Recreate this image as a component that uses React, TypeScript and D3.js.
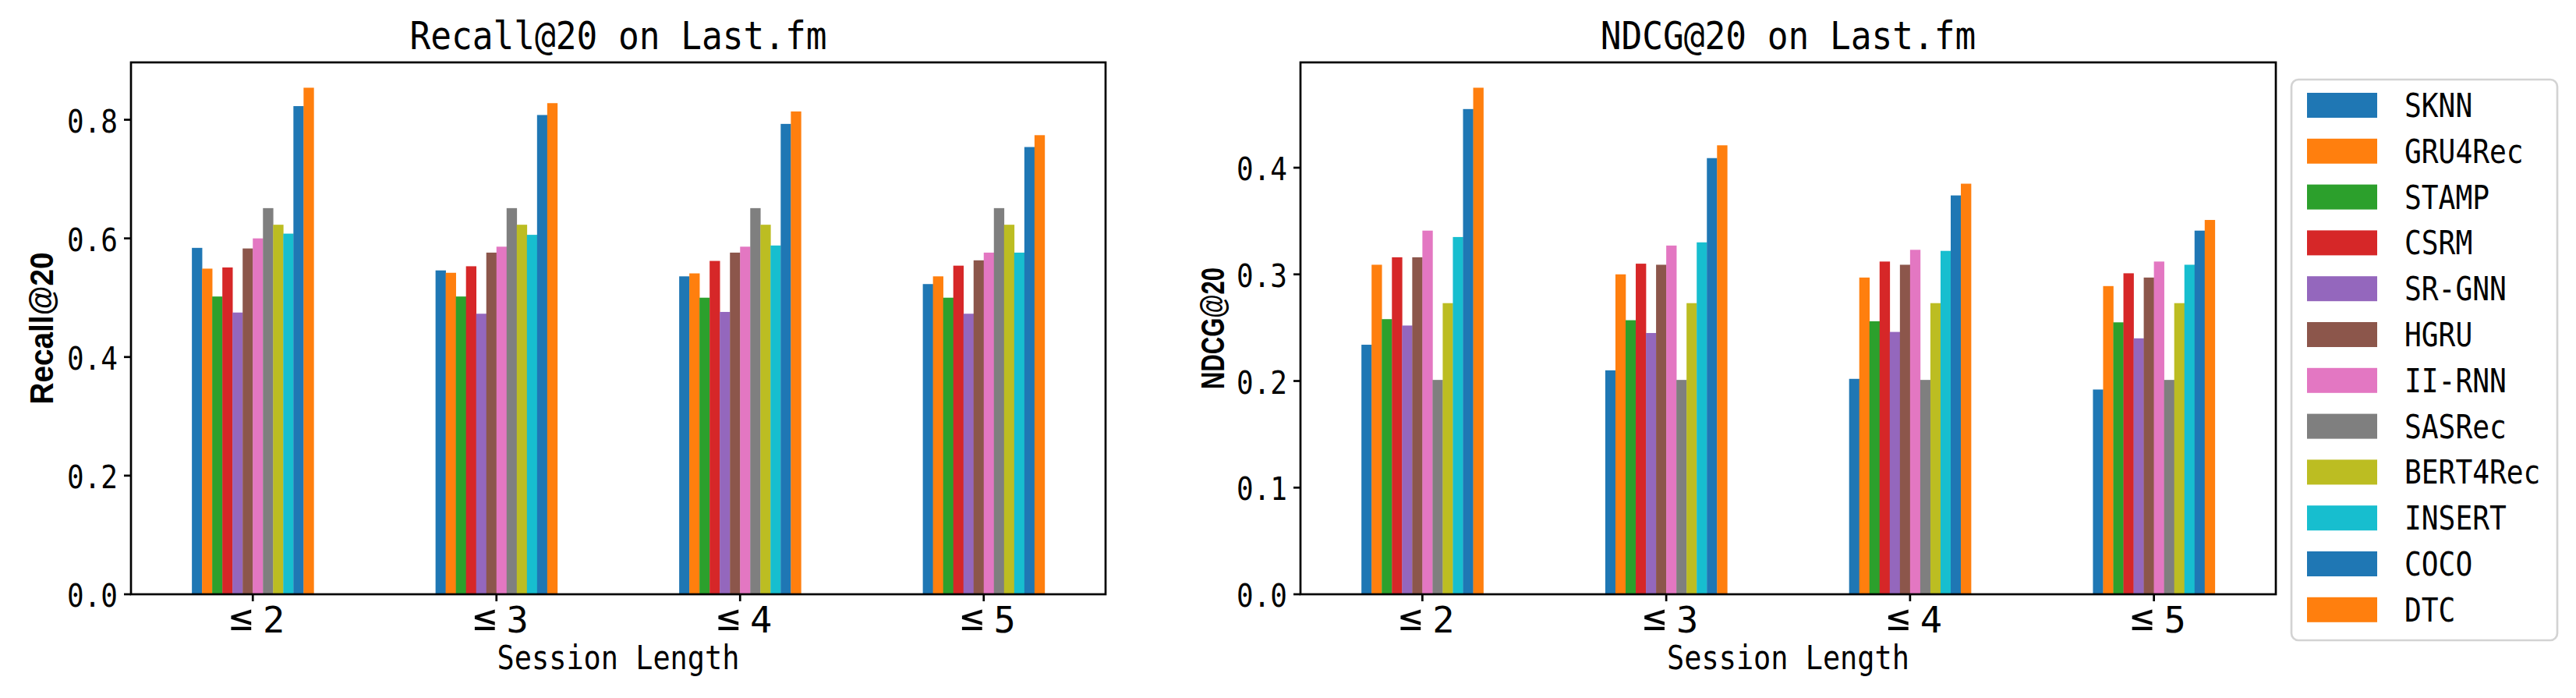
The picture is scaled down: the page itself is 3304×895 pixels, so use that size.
import React from "react";
import * as d3 from "d3";

// categories and series
const sessionLengths = ["≤2", "≤3", "≤4", "≤5"];
const models = [
  "SKNN", "GRU4Rec", "STAMP", "CSRM", "SR-GNN", "HGRU",
  "II-RNN", "SASRec", "BERT4Rec", "INSERT", "COCO", "DTC",
];
const modelColors = [
  "#1f77b4", "#ff7f0e", "#2ca02c", "#d62728", "#9467bd", "#8c564b",
  "#e377c2", "#7f7f7f", "#bcbd22", "#17becf", "#1f77b4", "#ff7f0e",
];

// [model][session length]
const recallValues = [
  [0.584, 0.546, 0.536, 0.523],
  [0.549, 0.542, 0.541, 0.536],
  [0.502, 0.502, 0.500, 0.500],
  [0.551, 0.553, 0.562, 0.554],
  [0.475, 0.473, 0.476, 0.473],
  [0.583, 0.576, 0.576, 0.563],
  [0.600, 0.586, 0.586, 0.576],
  [0.651, 0.651, 0.651, 0.651],
  [0.623, 0.623, 0.623, 0.623],
  [0.608, 0.606, 0.588, 0.576],
  [0.823, 0.808, 0.793, 0.754],
  [0.854, 0.828, 0.814, 0.774],
];

const ndcgValues = [
  [0.234, 0.210, 0.202, 0.192],
  [0.309, 0.300, 0.297, 0.289],
  [0.258, 0.257, 0.256, 0.255],
  [0.316, 0.310, 0.312, 0.301],
  [0.252, 0.245, 0.246, 0.240],
  [0.316, 0.309, 0.309, 0.297],
  [0.341, 0.327, 0.323, 0.312],
  [0.201, 0.201, 0.201, 0.201],
  [0.273, 0.273, 0.273, 0.273],
  [0.335, 0.330, 0.322, 0.309],
  [0.455, 0.409, 0.374, 0.341],
  [0.475, 0.421, 0.385, 0.351],
];

const recallTicks = [0, 0.2, 0.4, 0.6, 0.8];
const ndcgTicks = [0, 0.1, 0.2, 0.3, 0.4];

const W = 3304;
const H = 895;
const MONO = "'DejaVu Sans Mono', monospace";
const SANS = "'Liberation Sans', Arial, sans-serif";
const fmt = d3.format(".1f");

// SimHei-like widths: latin is half an em, ≤ a full em
function cells(s: string) {
  let w = 0;
  for (const ch of s) w += ch === "≤" ? 1 : 0.5;
  return w;
}

function MonoText(props: {
  x: number;
  y: number;
  em: number;
  size: number;
  anchor?: string;
  children: string;
}) {
  const { x, y, em, size, anchor = "start", children } = props;
  return (
    <text
      x={x}
      y={y}
      fontFamily={MONO}
      fontSize={size}
      textAnchor={anchor}
      textLength={cells(children) * em}
      lengthAdjust="spacingAndGlyphs"
      fill="#000"
    >
      {children}
    </text>
  );
}

function Panel(props: {
  left: number;
  right: number;
  title: string;
  ylabel: string;
  ylabelLen: number;
  ylabelX: number;
  values: number[][];
  ticks: number[];
}) {
  const { left, right, title, ylabel, ylabelLen, ylabelX, values, ticks } = props;
  const top = 80;
  const bottom = 762;

  const x = d3
    .scaleBand<string>()
    .domain(sessionLengths)
    .range([left, right])
    .paddingInner(0.5)
    .paddingOuter(0.25);
  const inner = d3
    .scaleBand<string>()
    .domain(models)
    .range([0, x.bandwidth()]);
  const ymax = (d3.max(values.flat()) ?? 1) * 1.05;
  const y = d3.scaleLinear().domain([0, ymax]).range([bottom, top]);
  const cx = (left + right) / 2;

  return (
    <g>
      {models.map((m, mi) =>
        sessionLengths.map((s, si) => (
          <rect
            key={m + s}
            x={(x(s) ?? 0) + (inner(m) ?? 0)}
            y={y(values[mi][si])}
            width={inner.bandwidth() + 0.3}
            height={y(0) - y(values[mi][si])}
            fill={modelColors[mi]}
          />
        )),
      )}
      <rect
        x={left}
        y={top}
        width={right - left}
        height={bottom - top}
        fill="none"
        stroke="#000"
        strokeWidth={2.7}
      />
      {ticks.map((t) => (
        <g key={t}>
          <line x1={left - 9} x2={left} y1={y(t)} y2={y(t)} stroke="#000" strokeWidth={2.7} />
          <MonoText x={left - 17} y={y(t) + 16} em={43.3} size={41} anchor="end">
            {fmt(t)}
          </MonoText>
        </g>
      ))}
      {sessionLengths.map((s) => {
        const tx = (x(s) ?? 0) + x.bandwidth() / 2;
        const [sym, digit] = [s.slice(0, 1), s.slice(1)];
        return (
          <g key={s}>
            <line x1={tx} x2={tx} y1={bottom} y2={bottom + 9} stroke="#000" strokeWidth={2.7} />
            <text x={tx - 15} y={808} fontFamily={MONO} fontSize={50} textAnchor="middle">
              {sym}
            </text>
            <text x={tx + 27} y={811} fontFamily={MONO} fontSize={47} textAnchor="middle">
              {digit}
            </text>
          </g>
        );
      })}
      <MonoText x={cx} y={63} em={53.5} size={49} anchor="middle">
        {title}
      </MonoText>
      <MonoText x={cx} y={858} em={44.4} size={42} anchor="middle">
        Session Length
      </MonoText>
      <text
        transform={`translate(${ylabelX},${(top + bottom) / 2}) rotate(-90)`}
        textAnchor="middle"
        fontFamily={SANS}
        fontWeight="bold"
        fontSize={42}
        textLength={ylabelLen}
        lengthAdjust="spacingAndGlyphs"
      >
        {ylabel}
      </text>
    </g>
  );
}

function Legend() {
  const bx = 2939;
  const by = 102;
  const rowStep = 58.8;
  return (
    <g>
      <rect
        x={bx}
        y={by}
        width={341}
        height={719}
        rx={9}
        fill="#fff"
        fillOpacity={0.8}
        stroke="#d3d3d3"
        strokeWidth={2.7}
      />
      {models.map((m, i) => {
        const py = 119 + i * rowStep;
        return (
          <g key={m}>
            <rect x={2959} y={py} width={90} height={32} fill={modelColors[i]} />
            <MonoText x={3084} y={py + 31} em={43.6} size={42}>
              {m}
            </MonoText>
          </g>
        );
      })}
    </g>
  );
}

export default function App() {
  return (
    <div>
      <style>{`body{margin:0;background:#fff}`}</style>
      <svg width={W} height={H} viewBox={`0 0 ${W} ${H}`} style={{ display: "block" }}>
        <rect width={W} height={H} fill="#fff" />
        <Panel
          left={168}
          right={1418}
          title="Recall@20 on Last.fm"
          ylabel="Recall@20"
          ylabelLen={195}
          ylabelX={68}
          values={recallValues}
          ticks={recallTicks}
        />
        <Panel
          left={1668}
          right={2919}
          title="NDCG@20 on Last.fm"
          ylabel="NDCG@20"
          ylabelLen={156}
          ylabelX={1570}
          values={ndcgValues}
          ticks={ndcgTicks}
        />
        <Legend />
      </svg>
    </div>
  );
}
